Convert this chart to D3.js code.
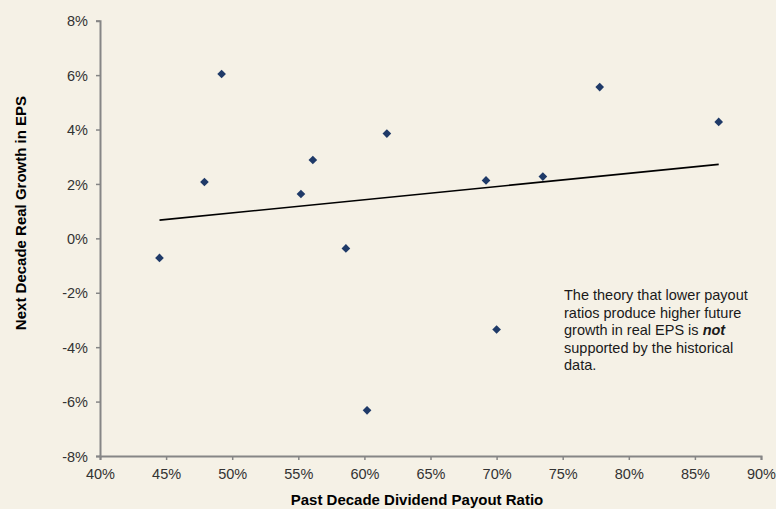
<!DOCTYPE html>
<html><head><meta charset="utf-8">
<script src="https://cdn.jsdelivr.net/npm/d3@7"></script>
<style>
html,body{margin:0;padding:0;background:#F5F1E6;}
svg{display:block;font-family:"Liberation Sans",Arial,sans-serif;}
</style></head>
<body>
<svg id="c" width="776" height="509"></svg>
<script>
// Data
const payoutRatio = [44.5, 47.9, 49.2, 55.2, 56.1, 58.6, 61.7, 60.2, 69.2, 70.0, 73.5, 77.8, 86.8];
const epsGrowth   = [-0.72, 2.07, 6.04, 1.63, 2.88, -0.37, 3.85, -6.32, 2.13, -3.35, 2.27, 5.56, 4.28];
const xTicks = [40, 45, 50, 55, 60, 65, 70, 75, 80, 85, 90];
const yTicks = [-8, -6, -4, -2, 0, 2, 4, 6, 8];
const noteLines = [
  ["The theory that lower payout"],
  ["ratios produce higher future"],
  ["growth in real EPS is ", "not"],
  ["supported by the historical"],
  ["data."]
];

const svg = d3.select("#c");
const x = d3.scaleLinear().domain([40, 90]).range([100, 761]);
const y = d3.scaleLinear().domain([-8, 8]).range([456, 20.7]);
const axisColor = "#868686";
const textColor = "#333333";
const fs = "14.5px";

// axes
const gx = svg.append("g").attr("transform", `translate(0,${y(-8)})`)
  .call(d3.axisBottom(x).tickValues(xTicks).tickFormat(d => d + "%").tickSizeOuter(0).tickSize(4));
const gy = svg.append("g").attr("transform", `translate(${x(40)},0)`)
  .call(d3.axisLeft(y).tickValues(yTicks).tickFormat(d => d + "%").tickSizeOuter(0).tickSize(4));
[gx, gy].forEach(g => {
  g.select(".domain").attr("stroke", axisColor).attr("stroke-width", 2);
  g.selectAll(".tick line").attr("stroke", axisColor).attr("stroke-width", 1.5);
  g.selectAll(".tick text").attr("fill", textColor).style("font-size", fs)
    .style("font-family", "'Liberation Sans',Arial,sans-serif");
});
gx.selectAll(".tick text").attr("dy", "0").attr("y", 23);
gy.selectAll(".tick text").attr("x", -12).attr("dy", "0.36em");

// trend line (least squares)
const mx = d3.mean(payoutRatio), my = d3.mean(epsGrowth);
let sxy = 0, sxx = 0;
payoutRatio.forEach((v, i) => { sxy += (v - mx) * (epsGrowth[i] - my); sxx += (v - mx) * (v - mx); });
const slope = sxy / sxx, icpt = my - slope * mx;
const [xmin, xmax] = d3.extent(payoutRatio);
svg.append("line")
  .attr("x1", x(xmin)).attr("y1", y(icpt + slope * xmin))
  .attr("x2", x(xmax)).attr("y2", y(icpt + slope * xmax))
  .attr("stroke", "#000").attr("stroke-width", 1.6);

// points
const sym = d3.symbol().type(d3.symbolDiamond2).size(48);
svg.append("g").selectAll("path").data(payoutRatio.map((v, i) => [v, epsGrowth[i]])).join("path")
  .attr("transform", d => `translate(${x(d[0])},${y(d[1])})`)
  .attr("d", sym).attr("fill", "#1F3A68");

// axis titles
svg.append("text").attr("x", 417).attr("y", 505).attr("text-anchor", "middle")
  .attr("font-weight", "bold").attr("font-size", "15px").attr("fill", "#000")
  .text("Past Decade Dividend Payout Ratio");
svg.append("text").attr("transform", `translate(26,213) rotate(-90)`).attr("text-anchor", "middle")
  .attr("font-weight", "bold").attr("font-size", "15px").attr("fill", "#000")
  .text("Next Decade Real Growth in EPS");

// annotation
const note = svg.append("text").attr("font-size", fs).attr("fill", "#1a1a1a");
noteLines.forEach((parts, i) => {
  const t = note.append("tspan").attr("x", 564).attr("y", 300 + i * 17.5);
  parts.forEach((p, j) => {
    const s = j === 0 ? t : note.append("tspan");
    if (j === 0) s.text(p);
    else s.attr("font-weight", "bold").attr("font-style", "italic").text(p);
  });
});
</script>
</body></html>
